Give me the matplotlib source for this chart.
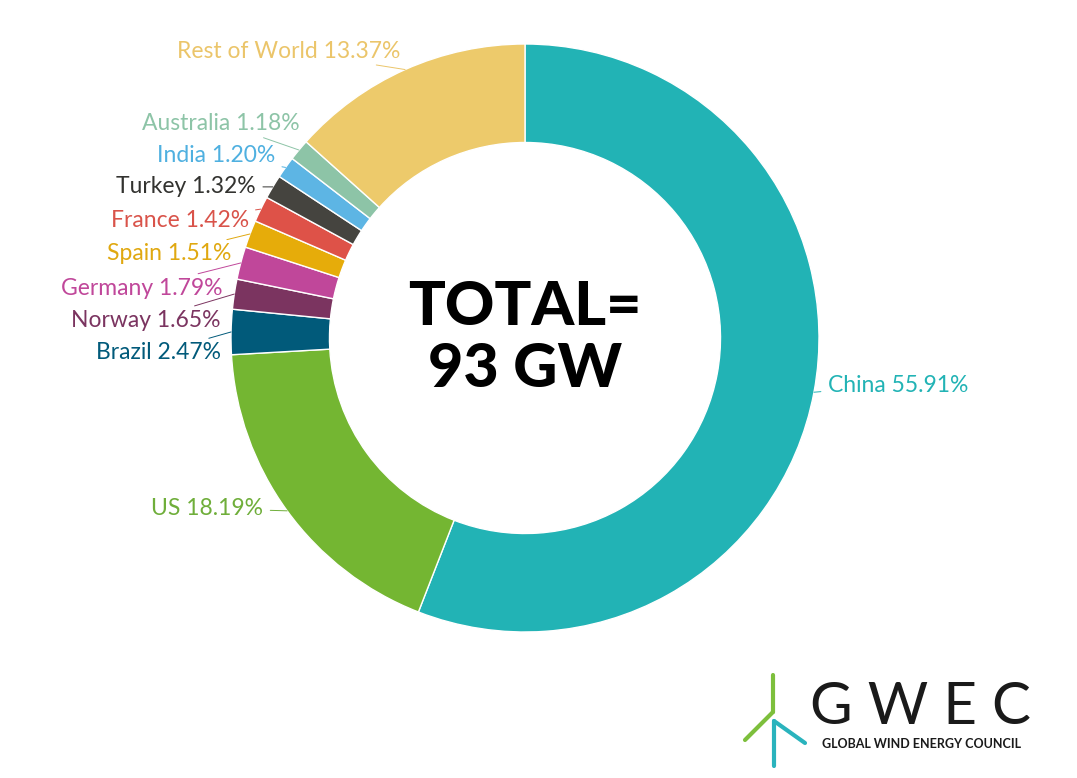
import numpy as np
import matplotlib
matplotlib.use("Agg")
import matplotlib.pyplot as plt
from matplotlib.lines import Line2D

# ---------------- data ----------------
countries = ["China", "US", "Brazil", "Norway", "Germany", "Spain", "France",
             "Turkey", "India", "Australia", "Rest of World"]
shares = [55.91, 18.19, 2.47, 1.65, 1.79, 1.51, 1.42, 1.32, 1.20, 1.18, 13.37]
colors = ["#22B3B5", "#74B632", "#015A7A", "#7B3460", "#C0479A", "#E6AC0A",
          "#DE5248", "#45443F", "#5DB5E4", "#8DC4A7", "#EDCA6B"]
label_colors = ["#22B3B5", "#6FAE3A", "#015A7A", "#7B3460", "#C0479A", "#E0A810",
                "#D9534A", "#333330", "#4FB0E0", "#8DC4A7", "#EBC56A"]
total_text = "TOTAL=\n93 GW"

# layout: label text anchor positions (axes data units, radius = 1)
label_pos = [(1.03, -0.16), (-0.89, -0.58), (-1.035, -0.05), (-1.035, 0.06),
             (-1.03, 0.17), (-1.0, 0.286), (-0.94, 0.398), (-0.915, 0.514),
             (-0.85, 0.622), (-0.765, 0.731), (-0.425, 0.976)]

FONT = "Lato"

fig = plt.figure(figsize=(10.77, 7.78), dpi=100)
ax = fig.add_axes([231 / 1077, (778 - 632) / 778, 588 / 1077, 588 / 778])

wedges, _ = ax.pie(shares, colors=colors, startangle=90, counterclock=False,
                   radius=1.0,
                   wedgeprops=dict(width=0.335, edgecolor="white", linewidth=1.0))
ax.set_xlim(-1, 1)
ax.set_ylim(-1, 1)
ax.set_aspect("equal")
ax.axis("off")

for w, name, val, lc, (tx, ty) in zip(wedges, countries, shares, label_colors, label_pos):
    ang = np.deg2rad((w.theta1 + w.theta2) / 2)
    px, py = np.cos(ang), np.sin(ang)
    ha = "left" if tx > 0 else "right"
    ax.annotate(f"{name} {val:.2f}%", xy=(px, py), xytext=(tx, ty),
                ha=ha, va="center", fontsize=16.5, color=lc, family=FONT,
                annotation_clip=False,
                arrowprops=dict(arrowstyle="-", color=lc, lw=0.7,
                                shrinkA=3, shrinkB=0))

ax.text(0.0, 0.0, total_text, ha="center", va="center", fontsize=44,
        fontweight="black", family=FONT, color="black", linespacing=1.15)

# ---------------- GWEC logo ----------------
def fx(p):
    return p / 1077
def fy(p):
    return 1 - p / 778

green, teal = "#7DBF3C", "#2AB3BD"
fig.add_artist(Line2D([fx(773), fx(773)], [fy(675), fy(712)], color=green, lw=3,
                      solid_capstyle="round"))
fig.add_artist(Line2D([fx(773), fx(745)], [fy(712), fy(740)], color=green, lw=3,
                      solid_capstyle="round"))
fig.add_artist(Line2D([fx(774), fx(774)], [fy(766), fy(721)], color=teal, lw=3,
                      solid_capstyle="round"))
fig.add_artist(Line2D([fx(774), fx(805)], [fy(721), fy(743)], color=teal, lw=3,
                      solid_capstyle="round"))
fig.text(fx(921), fy(707), "G W E C", ha="center", va="center", fontsize=42,
         family=FONT, color="#1a1a1a")
fig.text(fx(922), fy(744), "GLOBAL WIND ENERGY COUNCIL", ha="center", va="center",
         fontsize=9, family=FONT, color="#1a1a1a", fontweight="bold")

fig.savefig("out.png", dpi=100, facecolor="white")
